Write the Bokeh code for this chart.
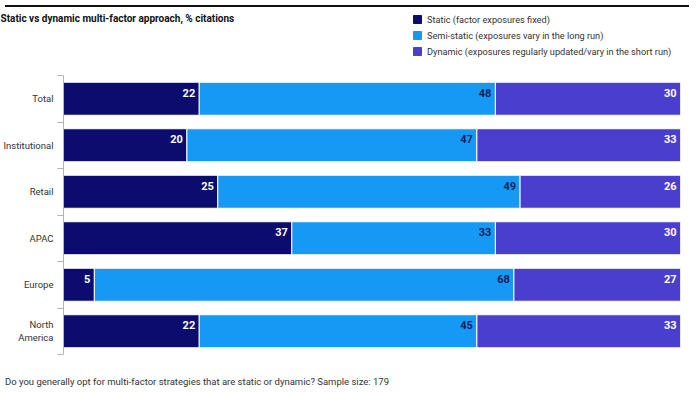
from bokeh.plotting import figure
from bokeh.models import ColumnDataSource, Range1d, FixedTicker, Legend, LegendItem, Label, Div
from bokeh.layouts import column, row
from bokeh.core.properties import value
from bokeh.embed import file_html
from bokeh.resources import INLINE

categories = ["Total", "Institutional", "Retail", "APAC", "Europe", "North\nAmerica"]
static = [22, 20, 25, 37, 5, 22]
semi_static = [48, 47, 49, 33, 68, 45]
dynamic = [30, 33, 26, 30, 27, 33]
series_names = ["Static (factor exposures fixed)",
                "Semi-static (exposures vary in the long run)",
                "Dynamic (exposures regularly updated/vary in the short run)"]
colors = ["#0c0b6e", "#1699f4", "#4a3ecf"]
label_colors = ["white", "#0d1f5c", "white"]
title_text = "Static vs dynamic multi-factor approach, % citations"
footer_text = "Do you generally opt for multi-factor strategies that are static or dynamic? Sample size: 179"

n = len(categories)
ys = [n - i - 0.5 for i in range(n)]
e1 = [a for a in static]
e2 = [a + b for a, b in zip(static, semi_static)]
e3 = [a + b + c for a, b, c in zip(static, semi_static, dynamic)]

src = ColumnDataSource(dict(
    y=ys, static=static, semi=semi_static, dynamic=dynamic,
    e1=e1, e2=e2, e3=e3,
    l1=[str(v) for v in static], l2=[str(v) for v in semi_static], l3=[str(v) for v in dynamic],
))

FONT = "Roboto"
W = 684

# ---------- header: title + legend (legend proxies share the data, drawn out of view) ----------
HH = 54
hdr = figure(width=W, height=HH, x_range=Range1d(0, 100), y_range=Range1d(n + 10, n + 11),
             output_backend="svg", toolbar_location=None,
             x_axis_location=None, y_axis_location=None,
             min_border_left=0, min_border_right=0, min_border_top=0, min_border_bottom=0)
hdr.grid.visible = False
hdr.outline_line_color = None
proxies = hdr.hbar_stack(["static", "semi", "dynamic"], y="y", height=0.71, color=colors, source=src)
legend = Legend(items=[LegendItem(label=nm, renderers=[r]) for nm, r in zip(series_names, proxies)],
                location=(412, 9), padding=0, margin=0, spacing=4,
                label_height=12, glyph_height=10, glyph_width=10, label_standoff=5,
                label_text_font=FONT, label_text_font_size="9.2px", label_text_color="#333333",
                border_line_color=None, background_fill_alpha=0)
hdr.add_layout(legend)
hdr.add_layout(Label(x=0, y=HH - 6, x_units="screen", y_units="screen",
                     text=title_text, text_font=FONT, text_font_style="bold",
                     text_font_size="10px", text_color="#111111", text_baseline="middle"))

# ---------- main chart ----------
H = 296
MT, MB, MR = 9, 8, 4
p = figure(width=W, height=H, x_range=Range1d(0, 100), y_range=Range1d(0, n),
           output_backend="svg", toolbar_location=None,
           min_border_left=40, min_border_right=MR, min_border_top=MT, min_border_bottom=MB)
p.xaxis.visible = False
p.grid.visible = False
p.outline_line_color = None

rs = p.hbar_stack(["static", "semi", "dynamic"], y="y", height=0.71, color=colors,
                  line_color="white", line_width=1, source=src)

for xcol, lcol, c in zip(["e1", "e2", "e3"], ["l1", "l2", "l3"], label_colors):
    p.text(x=xcol, y="y", text=lcol, source=src, x_offset=-4, y_offset=-6,
           text_align="right", text_baseline="middle", text_font=value(FONT),
           text_font_style="bold", text_font_size="11px", text_color=c)

ya = p.yaxis[0]
ya.ticker = FixedTicker(ticks=ys, minor_ticks=list(range(n + 1)))
ya.major_label_overrides = {y: c for y, c in zip(ys, categories)}
ya.major_tick_line_color = None
ya.major_tick_out = 0
ya.major_tick_in = 0
ya.minor_tick_out = 6
ya.minor_tick_in = 0
ya.minor_tick_line_color = "#b5b5b5"
ya.axis_line_color = "#b5b5b5"
ya.major_label_standoff = 4
ya.major_label_text_font = FONT
ya.major_label_text_font_size = "9.5px"
ya.major_label_text_color = "#333333"

top = Div(text="", width=W, height=2, styles={"background-color": "#111111"})
foot = Div(text='<div style="font-family: Roboto; font-size: 9.5px; color: #333333; '
                'padding-top: 8px; white-space: nowrap;">' + footer_text + '</div>',
           width=W, height=25)
layout = column(top, row(hdr), p, foot, spacing=0)

open("out.html", "w").write(file_html(layout, INLINE))
